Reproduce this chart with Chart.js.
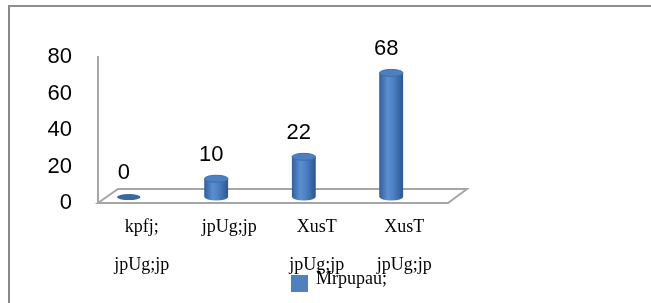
<!DOCTYPE html>
<html>
<head>
<meta charset="utf-8">
<script src="https://cdn.jsdelivr.net/npm/chart.js@4.4.1/dist/chart.umd.min.js"></script>
<style>
  html, body { margin: 0; padding: 0; background: #fff; }
  #wrap { position: relative; width: 651px; height: 303px; overflow: hidden; }
  #frame { position: absolute; left: 8px; top: 5px; right: -10px; bottom: -10px;
           border-left: 2px solid #888; border-top: 2px solid #8f8f8f; }
  canvas { position: absolute; left: 0; top: 0; }
</style>
</head>
<body>
<div id="wrap">
  <div id="frame"></div>
  <canvas id="chart" width="651" height="303"></canvas>
</div>
<script>
const categories = [['kpfj;', 'jpUg;jp'], ['jpUg;jp'], ['XusT', 'jpUg;jp'], ['XusT', 'jpUg;jp']];
const values = [0, 10, 22, 68];
const seriesName = 'Mrpupau;';
const yTicks = [0, 20, 40, 60, 80];

const barColor = '#4f81bd';
const shift = { x: -13, y: -6 };   // bars stand back on the 3d floor

const floor3d = {
    id: 'floor3d',
    beforeDatasetsDraw(chart) {
        const { ctx, chartArea: a } = chart;
        ctx.save();
        ctx.beginPath();
        ctx.moveTo(a.left, a.bottom);
        ctx.lineTo(a.right, a.bottom);
        ctx.lineTo(a.right + 19, a.bottom - 14);
        ctx.lineTo(a.left + 20, a.bottom - 14);
        ctx.closePath();
        ctx.fillStyle = '#fff';
        ctx.fill();
        ctx.strokeStyle = '#a6a6a6';
        ctx.lineWidth = 2;
        ctx.stroke();
        ctx.restore();
        ctx.save();
        ctx.translate(shift.x, shift.y);
    },
    afterDatasetsDraw(chart) {
        const ctx = chart.ctx;
        const meta = chart.getDatasetMeta(0);
        meta.data.forEach((bar, i) => {
            const { x, y, base, width } = bar.getProps(['x', 'y', 'base', 'width'], true);
            const rx = width / 2, ry = 3.5;
            if (base - y > 0.5) {
                const g = ctx.createLinearGradient(x - rx, 0, x + rx, 0);
                g.addColorStop(0, '#335f99');
                g.addColorStop(0.35, '#5a8fd2');
                g.addColorStop(0.6, '#4c80c2');
                g.addColorStop(1, '#2c5790');
                ctx.fillStyle = g;
                ctx.beginPath();
                ctx.moveTo(x - rx, y);
                ctx.lineTo(x - rx, base);
                ctx.ellipse(x, base, rx, ry, 0, Math.PI, 0, true);
                ctx.lineTo(x + rx, y);
                ctx.closePath();
                ctx.fill();
                ctx.beginPath();
                ctx.ellipse(x, y, rx, ry, 0, 0, Math.PI * 2);
                ctx.fillStyle = '#4d80c1';
                ctx.fill();
                ctx.strokeStyle = '#3d6dab';
                ctx.lineWidth = 1;
                ctx.stroke();
            } else {
                ctx.beginPath();
                ctx.ellipse(x, base, rx, 3, 0, 0, Math.PI * 2);
                ctx.fillStyle = '#3a68a6';
                ctx.fill();
            }
            ctx.fillStyle = '#000';
            ctx.font = '22px "Liberation Sans"';
            ctx.textAlign = 'center';
            ctx.textBaseline = 'middle';
            ctx.fillText(String(values[i]), x - 5, y - 24);
        });
        ctx.restore();
    }
};

const legendBox = {
    id: 'legendBox',
    afterDraw(chart) {
        const { ctx, chartArea: a } = chart;
        const lx = a.left + 193, ly = a.bottom + 72;
        ctx.save();
        ctx.fillStyle = barColor;
        ctx.fillRect(lx, ly, 17, 17);
        ctx.fillStyle = '#000';
        ctx.font = '18px "Liberation Serif"';
        ctx.textAlign = 'left';
        ctx.textBaseline = 'alphabetic';
        ctx.fillText(chart.data.datasets[0].label, lx + 25, ly + 9);
        ctx.restore();
    }
};

new Chart(document.getElementById('chart').getContext('2d'), {
    type: 'bar',
    data: {
        labels: categories,
        datasets: [{
            label: seriesName,
            data: values,
            backgroundColor: barColor,
            barPercentage: 0.27,
            categoryPercentage: 1
        }]
    },
    options: {
        responsive: false,
        animation: false,
        layout: { padding: { left: 0, right: 203, top: 57, bottom: 14 } },
        plugins: { legend: { display: false }, tooltip: { enabled: false } },
        scales: {
            x: {
                grid: { display: false, drawTicks: false },
                border: { display: false },
                ticks: {
                    padding: 5, color: '#000', maxRotation: 0, autoSkip: false,
                    font: { family: 'Liberation Serif', size: 18, lineHeight: 2.111 }
                }
            },
            y: {
                min: yTicks[0],
                max: yTicks[yTicks.length - 1],
                grid: { display: false, drawTicks: false },
                border: { display: true, color: '#a6a6a6', width: 2 },
                ticks: {
                    stepSize: yTicks[1] - yTicks[0], padding: 26, color: '#000',
                    font: { family: 'Liberation Sans', size: 22 }
                },
                afterFit: s => { s.width = 98; }
            }
        }
    },
    plugins: [floor3d, legendBox]
});
</script>
</body>
</html>
